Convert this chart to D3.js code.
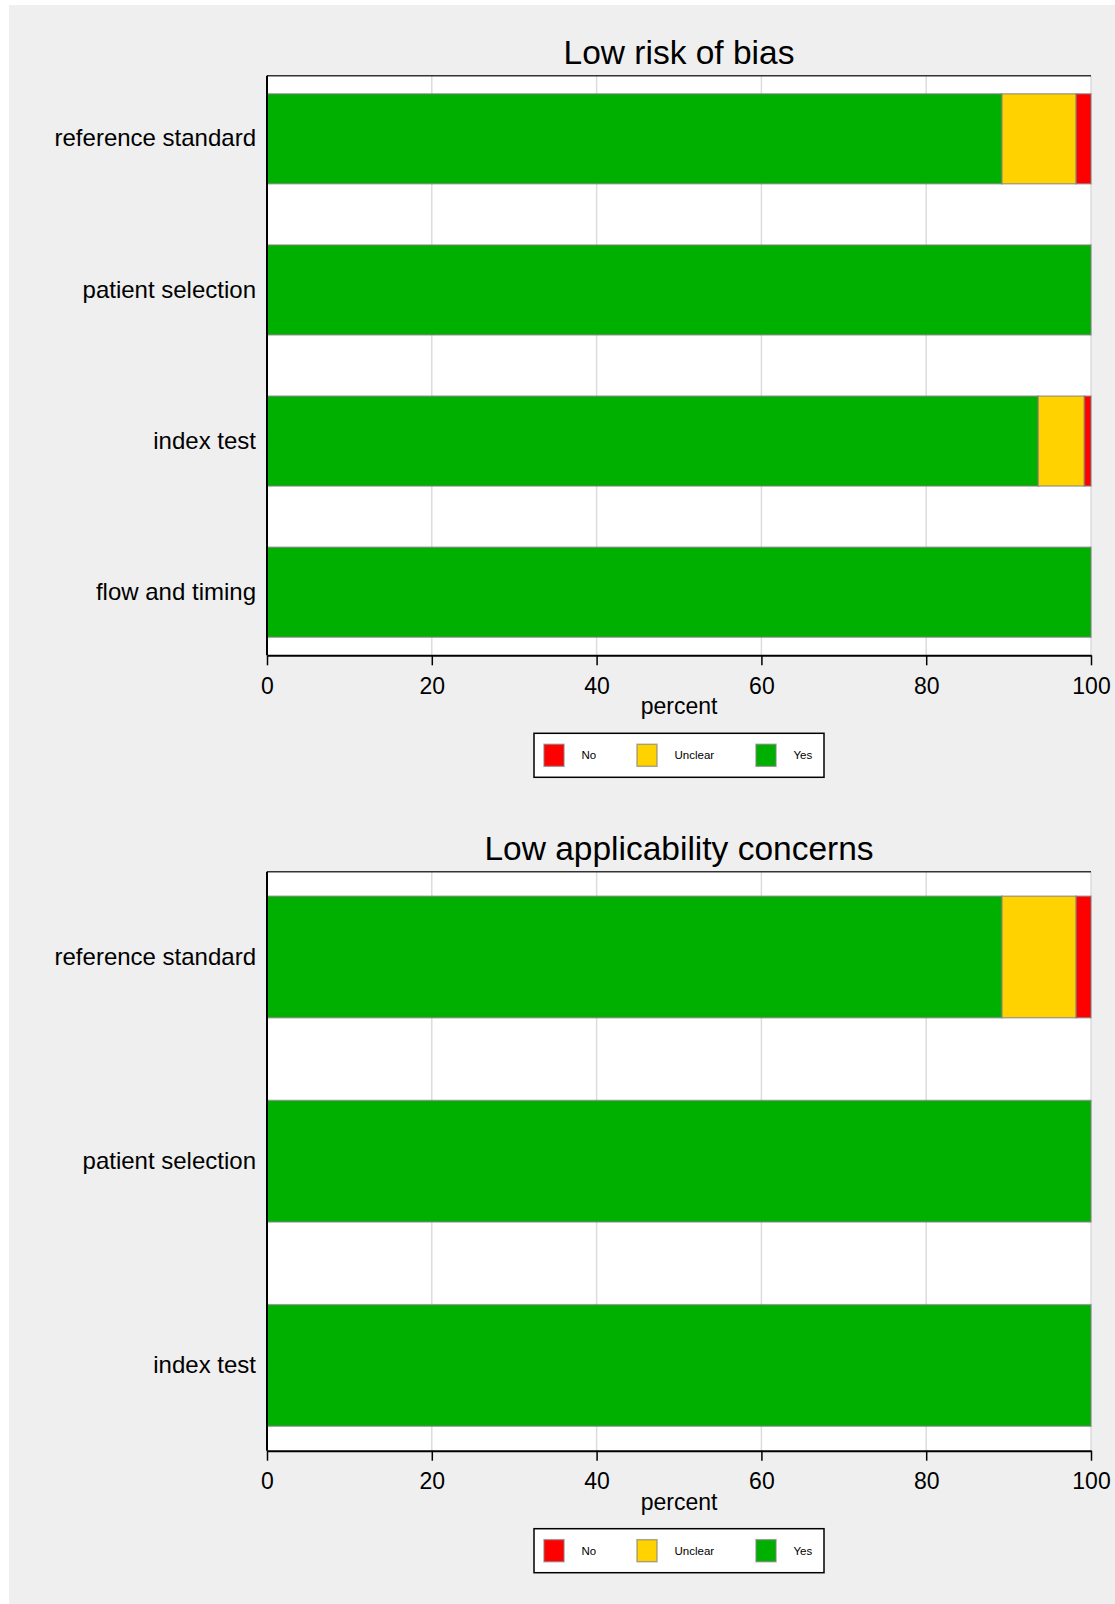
<!DOCTYPE html>
<html>
<head>
<meta charset="utf-8">
<script src="https://cdn.jsdelivr.net/npm/d3@7"></script>
<style>
  body { margin: 0; background: #fff; }
  svg { display: block; font-family: 'Liberation Sans', Arial, sans-serif; }
</style>
</head>
<body>
<svg id="chart" width="1115" height="1604"></svg>
<script>
// categories and values (percent of studies)
const judgements = ['No', 'Unclear', 'Yes'];
const colours = ['#ff0000', '#ffd200', '#00b000'];

const biasDomains = ['reference standard', 'patient selection', 'index test', 'flow and timing'];
const biasNo = [1.8, 0, 0.8, 0];
const biasUnclear = [9.0, 0, 5.6, 0];
const biasYes = [89.2, 100, 93.6, 100];

const applDomains = ['reference standard', 'patient selection', 'index test'];
const applNo = [1.8, 0, 0];
const applUnclear = [9.0, 0, 0];
const applYes = [89.2, 100, 100];

const xTicks = [0, 20, 40, 60, 80, 100];

const svg = d3.select('#chart');

// grey graph region
svg.append('rect')
  .attr('x', 9).attr('y', 5)
  .attr('width', 1115 - 9).attr('height', 1604 - 5)
  .attr('fill', '#efefef');

const x = d3.scaleLinear().domain([0, 100]).range([267, 1091]);

const color = d3.scaleOrdinal().domain(judgements).range(colours);

// legend key offsets inside the legend box
const legendOffsets = [10, 103, 222];

function drawPanel(title, domains, no, unclear, yes, top, bottom) {
  const g = svg.append('g');

  const rows = domains.map((name, i) => ({ name, Yes: yes[i], Unclear: unclear[i], No: no[i] }));
  // stacked left to right: Yes, Unclear, No
  const series = d3.stack().keys(['Yes', 'Unclear', 'No'])(rows);

  const y = d3.scaleBand()
    .domain(domains)
    .range([top, bottom])
    .paddingInner(0.405)
    .paddingOuter(0.12);

  // plot region
  g.append('rect')
    .attr('x', x(0)).attr('y', top)
    .attr('width', x(100) - x(0)).attr('height', bottom - top)
    .attr('fill', '#fff');

  // gridlines
  g.append('g')
    .selectAll('line')
    .data(xTicks.slice(1))
    .join('line')
    .attr('x1', (d) => x(d)).attr('x2', (d) => x(d))
    .attr('y1', top).attr('y2', bottom)
    .attr('stroke', '#dcdcdc')
    .attr('stroke-width', 1.5);

  // top border
  g.append('line')
    .attr('x1', x(0)).attr('x2', x(100))
    .attr('y1', top).attr('y2', top)
    .attr('stroke', '#333').attr('stroke-width', 1.5);

  // bars
  g.append('g')
    .selectAll('g')
    .data(series)
    .join('g')
    .attr('fill', (d) => color(d.key))
    .selectAll('rect')
    .data((d) => d.filter((v) => v[1] - v[0] > 0))
    .join('rect')
    .attr('x', (d) => x(d[0]))
    .attr('y', (d) => y(d.data.name))
    .attr('width', (d) => x(d[1]) - x(d[0]))
    .attr('height', y.bandwidth())
    .attr('stroke', '#808080')
    .attr('stroke-opacity', 0.65)
    .attr('stroke-width', 1.5);

  // y axis
  const yAxis = g.append('g')
    .attr('transform', `translate(${x(0)},0)`)
    .call(d3.axisLeft(y).tickSize(0).tickPadding(11));
  yAxis.select('.domain').attr('stroke', '#000').attr('stroke-width', 2)
    .attr('d', `M0,${top}V${bottom}`);
  yAxis.selectAll('text')
    .attr('font-size', 24)
    .attr('font-family', "'Liberation Sans', Arial, sans-serif")
    .attr('fill', '#000');

  // x axis
  const xAxis = g.append('g')
    .attr('transform', `translate(0,${bottom})`)
    .call(d3.axisBottom(x).tickValues(xTicks).tickSize(10).tickSizeOuter(0).tickPadding(12));
  xAxis.select('.domain').attr('stroke', '#000').attr('stroke-width', 2);
  xAxis.selectAll('.tick line').attr('stroke', '#000').attr('stroke-width', 1.5);
  xAxis.selectAll('text')
    .attr('font-size', 23)
    .attr('font-family', "'Liberation Sans', Arial, sans-serif")
    .attr('fill', '#000');

  // title
  g.append('text')
    .attr('x', (x(0) + x(100)) / 2)
    .attr('y', top - 12)
    .attr('text-anchor', 'middle')
    .attr('font-size', 33.5)
    .attr('fill', '#000')
    .text(title);

  // axis title
  g.append('text')
    .attr('x', (x(0) + x(100)) / 2)
    .attr('y', bottom + 59)
    .attr('text-anchor', 'middle')
    .attr('font-size', 23)
    .attr('fill', '#000')
    .text('percent');

  // legend
  const lg = g.append('g').attr('transform', `translate(534,${bottom + 78})`);
  lg.append('rect')
    .attr('width', 290).attr('height', 44)
    .attr('fill', '#fff')
    .attr('stroke', '#000').attr('stroke-width', 1.5);
  const item = lg.selectAll('g.item')
    .data(judgements)
    .join('g')
    .attr('class', 'item')
    .attr('transform', (d, i) => `translate(${legendOffsets[i]},11)`);
  item.append('rect')
    .attr('width', 20).attr('height', 22)
    .attr('fill', color)
    .attr('stroke', '#808080')
    .attr('stroke-opacity', 0.65)
    .attr('stroke-width', 1.5);
  item.append('text')
    .attr('x', 37.5)
    .attr('y', 11)
    .attr('dy', '0.35em')
    .attr('font-size', 11.5)
    .attr('fill', '#000')
    .text((d) => d);
}

drawPanel('Low risk of bias', biasDomains, biasNo, biasUnclear, biasYes, 75.7, 655.3);
drawPanel('Low applicability concerns', applDomains, applNo, applUnclear, applYes, 871.7, 1450.7);
</script>
</body>
</html>
